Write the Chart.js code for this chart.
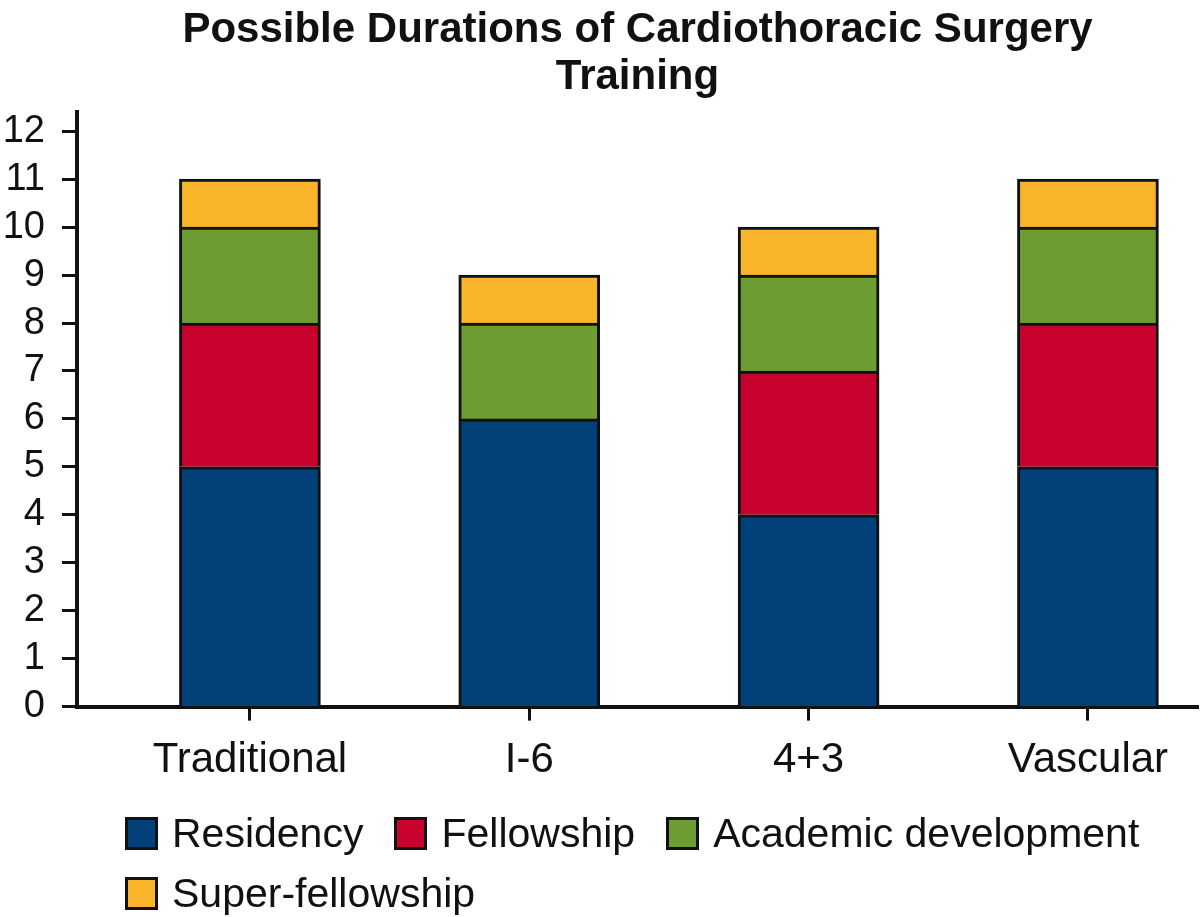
<!DOCTYPE html>
<html>
<head>
<meta charset="utf-8">
<script src="https://cdn.jsdelivr.net/npm/chart.js@4.4.1/dist/chart.umd.min.js"></script>
<style>
  html, body { margin: 0; padding: 0; background: #fff; }
  #wrap { position: relative; width: 1200px; height: 917px; font-family: 'Liberation Sans', Arial, sans-serif; }
  #legend { position: absolute; left: 125px; top: 809px; width: 1070px; display: flex; flex-wrap: wrap; row-gap: 12px; column-gap: 31px; }
  .item { display: flex; align-items: center; font-size: 41px; color: #111; line-height: 48px; }
  .box { width: 27px; height: 27px; border: 3px solid #111; margin-right: 14px; }
</style>
</head>
<body>
<div id="wrap">
  <canvas id="c" width="1200" height="917"></canvas>
  <div id="legend"></div>
</div>
<script>
const categories = ['Traditional', 'I-6', '4+3', 'Vascular'];
const residency = [5, 6, 4, 5];
const fellowship = [3, 0, 3, 3];
const academic = [2, 2, 2, 2];
const superFellowship = [1, 1, 1, 1];
const seriesNames = ['Residency', 'Fellowship', 'Academic development', 'Super-fellowship'];
const seriesColors = ['#02407a', '#c8022e', '#6d9c33', '#f8b52a'];
const yTicks = [0, 1, 2, 3, 4, 5, 6, 7, 8, 9, 10, 11, 12];

const series = [residency, fellowship, academic, superFellowship];

const datasets = series.map((vals, k) => ({
  label: seriesNames[k],
  data: vals.map((v, i) => ({ x: i, y: v })),
  backgroundColor: seriesColors[k],
  borderColor: '#111',
  borderWidth: { top: 3, left: 3, right: 3, bottom: 0 },
  borderSkipped: false,
  barThickness: 141
}));

// legend drawn as html, from the same arrays
const legend = document.getElementById('legend');
seriesNames.forEach((name, k) => {
  const it = document.createElement('div');
  it.className = 'item';
  const b = document.createElement('span');
  b.className = 'box';
  b.style.background = seriesColors[k];
  it.appendChild(b);
  it.appendChild(document.createTextNode(name));
  legend.appendChild(it);
});

// centre the title over the plot area, not the whole canvas
const titleOverArea = {
  id: 'titleOverArea',
  afterLayout(chart) {
    chart.titleBlock.left = chart.chartArea.left;
    chart.titleBlock.right = chart.chartArea.right;
  }
};

const font = 'Liberation Sans';

new Chart(document.getElementById('c'), {
  type: 'bar',
  data: { datasets },
  plugins: [titleOverArea],
  options: {
    responsive: false,
    animation: false,
    layout: { padding: { left: 0, right: 2, top: 7, bottom: 116 } },
    plugins: {
      legend: { display: false },
      tooltip: { enabled: false },
      title: {
        display: true,
        text: ['Possible Durations of Cardiothoracic Surgery', 'Training'],
        color: '#111',
        font: { family: font, size: 42, weight: 'bold', lineHeight: 1.12 },
        padding: { top: 0, bottom: 11 }
      }
    },
    scales: {
      x: {
        type: 'linear',
        stacked: true,
        offset: false,
        min: -0.619,
        max: 3.394,
        afterBuildTicks: s => { s.ticks = categories.map((c, i) => ({ value: i })); },
        ticks: {
          callback: v => categories[v],
          color: '#111',
          font: { family: font, size: 42 },
          padding: 15,
          maxRotation: 0,
          autoSkip: false
        },
        grid: { offset: false, drawOnChartArea: false, color: '#111', tickLength: 14, tickWidth: 3 },
        border: { color: '#111', width: 4 }
      },
      y: {
        stacked: true,
        min: 0,
        max: 12.4,
        afterBuildTicks: s => { s.ticks = yTicks.map(v => ({ value: v })); },
        afterFit: s => { s.width = 77; },
        ticks: {
          color: '#111',
          font: { family: font, size: 38 },
          padding: 17
        },
        grid: { drawOnChartArea: false, color: '#111', tickLength: 15, tickWidth: 3 },
        border: { color: '#111', width: 4 }
      }
    }
  }
});
</script>
</body>
</html>
